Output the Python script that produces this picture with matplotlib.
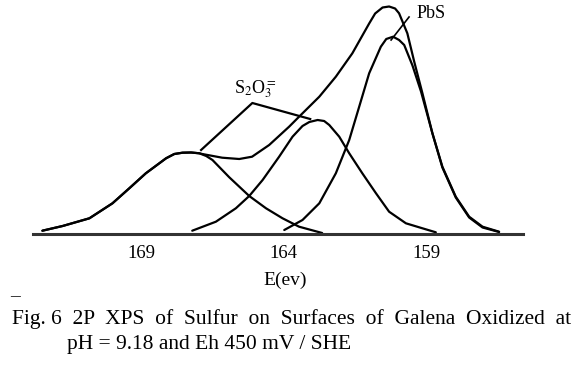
import matplotlib
matplotlib.use('Agg')
import matplotlib.pyplot as plt

plt.rcParams['font.family'] = ['Liberation Serif', 'DejaVu Serif']
plt.rcParams['mathtext.fontset'] = 'stix'

# binding energy (eV) / intensity (arb.)
env_e = [172.47, 171.76, 170.82, 170.01, 169.42, 168.84, 168.13, 167.84, 167.55, 167.25,
         166.96, 166.86, 166.16, 165.56, 165.11, 164.51, 163.81, 163.46, 162.75, 162.17,
         161.59, 161.00, 160.79, 160.53, 160.30, 160.09, 159.95, 159.66, 159.42, 159.13,
         158.78, 158.43, 157.96, 157.49, 157.02, 156.44]
env_i = [2.8, 7.5, 15.2, 30.2, 45.2, 60.2, 75.2, 79.5, 80.8, 81.0,
         80.2, 79.5, 75.8, 74.5, 76.8, 88.5, 106.8, 116.8, 136.8, 156.8,
         180.2, 210.0, 220.0, 226.0, 227.0, 225.0, 220.2, 200.2, 172.0, 140.2,
         100.2, 66.8, 36.8, 16.8, 6.8, 1.8]

# S2O3= component, high energy
s1_e = [172.47, 171.76, 170.82, 170.01, 169.42, 168.84, 168.13, 167.84, 167.55, 167.25,
        166.96, 166.72, 166.50, 165.91, 165.21, 164.62, 164.04, 163.46, 162.65]
s1_i = [2.8, 7.5, 15.2, 30.2, 45.2, 60.2, 75.2, 79.5, 80.8, 81.0,
        80.2, 77.5, 73.5, 56.2, 37.5, 25.2, 15.2, 6.8, 0.5]

# S2O3= component, low energy
s2_e = [167.21, 166.38, 165.68, 165.21, 164.74, 164.16, 163.69, 163.34, 163.10, 162.81,
        162.58, 162.40, 162.05, 161.70, 161.24, 160.76, 160.30, 159.71, 159.13, 158.66]
s2_i = [2.8, 11.8, 25.2, 37.5, 53.5, 76.8, 96.8, 107.5, 111.5, 113.5,
        112.5, 108.5, 96.8, 80.2, 60.2, 40.2, 21.8, 10.2, 5.2, 1.2]

# PbS component
pbs_e = [163.98, 163.34, 162.75, 162.17, 161.70, 161.35, 161.00, 160.59, 160.40, 160.16,
         159.95, 159.77, 159.48, 159.18, 158.78, 158.43, 157.96, 157.49, 157.02, 156.44]
pbs_i = [3.5, 13.5, 30.2, 60.2, 93.5, 126.8, 160.2, 186.8, 194.5, 196.8,
         193.5, 188.5, 168.0, 142.0, 100.2, 66.0, 36.0, 16.0, 6.0, 1.5]

ticks = [169, 164, 159]

fig = plt.figure(figsize=(5.8, 3.86), dpi=100)
ax = fig.add_axes([33 / 580, 1 - 233.5 / 386, 490 / 580, 233.5 / 386])

for e, i in [(env_e, env_i), (s1_e, s1_i), (s2_e, s2_i), (pbs_e, pbs_i)]:
    ax.plot(e, i, color='black', lw=1.6, solid_joinstyle='round', solid_capstyle='round')

# leader lines to the labels
ax.plot([166.9, 165.1, 163.07], [83.5, 130.5, 114.5], color='black', lw=1.6)
ax.plot([159.6, 160.23], [216.5, 193.5], color='black', lw=1.2)
ax.text(165.0, 144.5, r'S$_2$O$_3^{=}$', fontsize=13, ha='center', va='center')
ax.text(158.82, 219.5, 'PbS', fontsize=13, ha='center', va='center')

ax.set_xlim(172.8, 155.6)
ax.set_ylim(0, 233.5)
for s in ['top', 'right', 'left']:
    ax.spines[s].set_visible(False)
ax.spines['bottom'].set_linewidth(2.2)
ax.spines['bottom'].set_color('#333333')
ax.set_yticks([])
ax.set_xticks(ticks)
ax.set_xticklabels([str(t) for t in ticks], fontsize=13.5)
ax.tick_params(axis='x', length=0, pad=8)
ax.set_xlabel('E(ev)', fontsize=14, va='center')
ax.xaxis.set_label_coords(0.514, -0.2)
ax.patch.set_visible(False)

fig.text(10 / 580, 1 - 297 / 386, '–', fontsize=14, va='center')
fig.text(12 / 580, 1 - 319 / 386,
         'Fig. 6  2P  XPS  of  Sulfur  on  Surfaces  of  Galena  Oxidized  at',
         fontsize=15.5, va='center')
fig.text(67 / 580, 1 - 345 / 386, 'pH = 9.18 and Eh 450 mV / SHE', fontsize=15.5, va='center')

fig.savefig('out.png', dpi=100)
